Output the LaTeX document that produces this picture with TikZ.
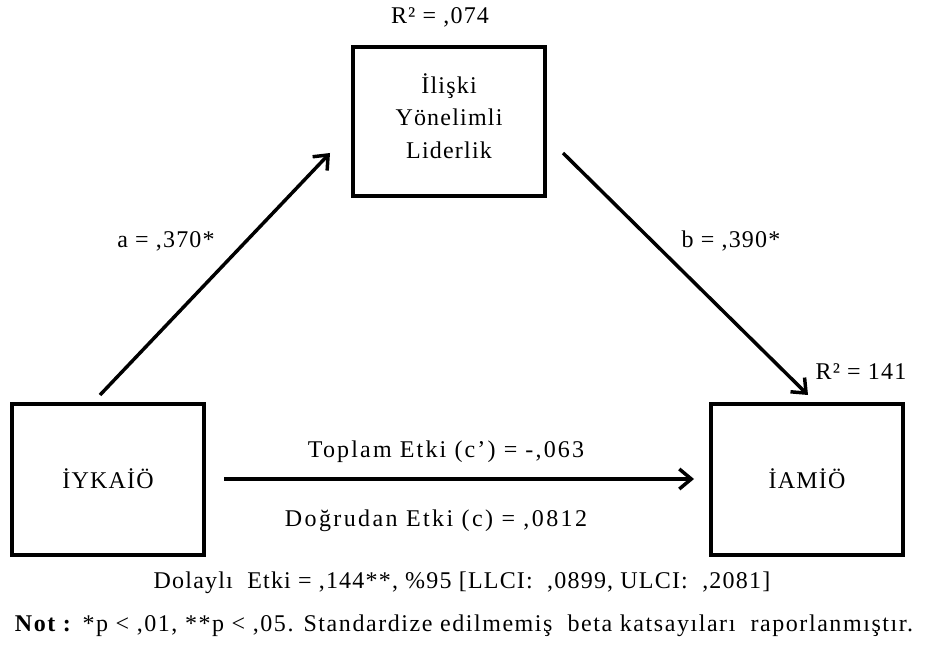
\documentclass[tikz,border=0pt]{standalone}
\usepackage{fontspec}
\setmainfont{Liberation Serif}[LetterSpace=5]
\usetikzlibrary{arrows.meta}
\begin{document}
\begin{tikzpicture}[x=0.75pt,y=-0.75pt,
  varbox/.style={draw,line width=3pt,minimum width=192*0.75pt,inner sep=0pt},
  path/.style={line width=2.6pt,-{Straight Barb[length=9pt,width=15pt,line width=2.6pt]}},
  lbl/.style={font=\fontsize{18}{24.5}\selectfont,inner sep=0pt},
  wide/.style={font=\fontsize{18}{24.5}\selectfont\addfontfeature{LetterSpace=#1}}]
\useasboundingbox (0,0) rectangle (925,652);
% variable boxes
\node[varbox,minimum height=149*0.75pt] (med) at (449,122) {};
\node[varbox,minimum height=151*0.75pt] (x) at (108,479) {};
\node[varbox,minimum height=151*0.75pt] (y) at (807,479) {};
\node[lbl,align=center] (medtxt) at (449,116) {İlişki\\Yönelimli\\Liderlik};
\node[lbl] (xtxt) at (x.center) {İYKAİÖ};
\node[lbl] (ytxt) at (y.center) {İAMİÖ};
% explained variance
\node[lbl] (r2m) at (440,17) {R² = ,074};
\node[lbl] (r2y) at (861,372) {R² = 141};
% path endpoints
\coordinate (aS) at (100,395);
\coordinate (aE) at (330,153);
\coordinate (bS) at (563,153);
\coordinate (bE) at (808,395);
\draw[path] (aS) -- (aE);
\draw[path] (bS) -- (bE);
\draw[path,shorten <=18*0.75pt,shorten >=15*0.75pt] (x) -- (y);
% path coefficients
\node[lbl] (pa) at (166,241) {a = ,370*};
\node[lbl] (pb) at (731,241) {b = ,390*};
\node[lbl,wide=9] (ctot) at (446,452) {Toplam Etki\ (c’) = -,063};
\node[lbl,wide=10] (cdir) at (436,521) {Doğrudan Etki\ (c) = ,0812};
% indirect effect and note
\node[lbl] (ind) at (462,583) {Dolaylı\ \ Etki = ,144**, \%95 [LLCI:\ \ ,0899, ULCI:\ \ ,2081]};
\node[lbl,wide=6.5] (note) at (464,626) {\textbf{Not :} *p < ,01, **p < ,05. Standardize edilmemiş\ \ beta katsayıları\ \ raporlanmıştır.};
\end{tikzpicture}
\end{document}
